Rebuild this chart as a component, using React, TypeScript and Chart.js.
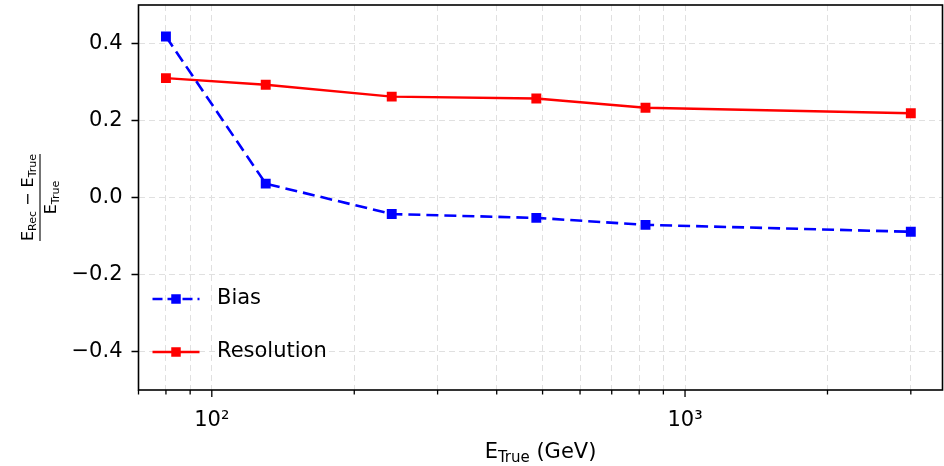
import React, { useEffect, useRef } from "react";
import { Chart, registerables } from "chart.js";

Chart.register(...registerables);

// ---- data ----
const energies = [80, 130, 240, 485, 825, 3000];
const biasValues = [0.418, 0.036, -0.043, -0.053, -0.071, -0.089];
const resolutionValues = [0.31, 0.293, 0.262, 0.257, 0.233, 0.219];
const seriesNames = ["Bias", "Resolution"];
const xTickValues = [70, 80, 90, 100, 200, 300, 400, 500, 600, 700, 800, 900, 1000, 2000, 3000];
const xMajorTicks = [100, 1000];
const xMajorLabels = ["10²", "10³"];
const yTickValues = [-0.4, -0.2, 0, 0.2, 0.4];

const FONT = "'DejaVu Sans', sans-serif";
const BLUE = "#0000ff";
const RED = "#ff0000";

type Part = { t: string; size: number; dy: number };

function drawParts(ctx: CanvasRenderingContext2D, parts: Part[], cx: number, baseY: number) {
  let total = 0;
  const widths = parts.map((p) => {
    ctx.font = `${p.size}px ${FONT}`;
    const w = ctx.measureText(p.t).width;
    total += w;
    return w;
  });
  let x = cx - total / 2;
  ctx.textAlign = "left";
  ctx.textBaseline = "alphabetic";
  parts.forEach((p, i) => {
    ctx.font = `${p.size}px ${FONT}`;
    ctx.fillText(p.t, x, baseY + p.dy);
    x += widths[i];
  });
  return total;
}

const decorPlugin = {
  id: "decor",
  afterDatasetsDraw(chart: any) {
    const { ctx, chartArea: a, scales } = chart;
    const xs = scales.x;
    const ys = scales.y;
    ctx.save();
    ctx.setLineDash([]);
    // tick marks
    ctx.strokeStyle = "#000";
    ctx.lineWidth = 1.3;
    ctx.beginPath();
    xTickValues.forEach((v) => {
      const px = xs.getPixelForValue(v);
      const len = xMajorTicks.includes(v) ? 7 : 4.5;
      ctx.moveTo(px, a.bottom);
      ctx.lineTo(px, a.bottom + len);
    });
    yTickValues.forEach((v) => {
      const py = ys.getPixelForValue(v);
      ctx.moveTo(a.left, py);
      ctx.lineTo(a.left - 7, py);
    });
    ctx.stroke();
    // frame
    ctx.lineWidth = 1.6;
    ctx.strokeRect(a.left, a.top, a.right - a.left, a.bottom - a.top);

    // legend
    const rows = [
      { name: seriesNames[0], color: BLUE, dash: [10, 5], y: a.top + 294 },
      { name: seriesNames[1], color: RED, dash: [], y: a.top + 347 },
    ];
    rows.forEach((r) => {
      const x0 = a.left + 14;
      const x1 = a.left + 61;
      ctx.strokeStyle = r.color;
      ctx.lineWidth = 2.6;
      ctx.setLineDash(r.dash);
      ctx.beginPath();
      ctx.moveTo(x0, r.y);
      ctx.lineTo(x1, r.y);
      ctx.stroke();
      ctx.setLineDash([]);
      ctx.fillStyle = r.color;
      const s = 9.5;
      ctx.fillRect((x0 + x1) / 2 - s / 2, r.y - s / 2, s, s);
      ctx.fillStyle = "#000";
      ctx.font = `21px ${FONT}`;
      ctx.textAlign = "left";
      ctx.textBaseline = "middle";
      ctx.fillText(r.name, a.left + 78.5, r.y);
    });

    // x axis title
    ctx.fillStyle = "#000";
    drawParts(
      ctx,
      [
        { t: "E", size: 21, dy: 0 },
        { t: "True", size: 15, dy: 4 },
        { t: " (GeV)", size: 21, dy: 0 },
      ],
      (a.left + a.right) / 2,
      458
    );

    // y axis title (fraction, rotated)
    ctx.save();
    ctx.translate(40, (a.top + a.bottom) / 2);
    ctx.rotate(-Math.PI / 2);
    const numW = drawParts(
      ctx,
      [
        { t: "E", size: 16, dy: 0 },
        { t: "Rec", size: 11, dy: 3 },
        { t: " − ", size: 16, dy: 0 },
        { t: "E", size: 16, dy: 0 },
        { t: "True", size: 11, dy: 3 },
      ],
      0,
      -7
    );
    drawParts(
      ctx,
      [
        { t: "E", size: 16, dy: 0 },
        { t: "True", size: 11, dy: 3 },
      ],
      0,
      16
    );
    ctx.strokeStyle = "#000";
    ctx.lineWidth = 1.1;
    ctx.beginPath();
    ctx.moveTo(-numW / 2, 0);
    ctx.lineTo(numW / 2, 0);
    ctx.stroke();
    ctx.restore();

    ctx.restore();
  },
};

export default function App() {
  const ref = useRef<HTMLCanvasElement | null>(null);
  useEffect(() => {
    document.body.style.margin = "0";
    const canvas = ref.current;
    if (!canvas) return;
    const chart = new Chart(canvas, {
      type: "line",
      data: {
        datasets: [
          {
            label: seriesNames[0],
            data: energies.map((e, i) => ({ x: e, y: biasValues[i] })),
            borderColor: BLUE,
            backgroundColor: BLUE,
            borderWidth: 2.6,
            borderDash: [12, 6],
            pointStyle: "rect",
            pointRadius: 7,
            pointBorderWidth: 0,
            pointBackgroundColor: BLUE,
            tension: 0,
          },
          {
            label: seriesNames[1],
            data: energies.map((e, i) => ({ x: e, y: resolutionValues[i] })),
            borderColor: RED,
            backgroundColor: RED,
            borderWidth: 2.4,
            pointStyle: "rect",
            pointRadius: 7,
            pointBorderWidth: 0,
            pointBackgroundColor: RED,
            tension: 0,
          },
        ],
      },
      options: {
        responsive: false,
        animation: false,
        devicePixelRatio: 1,
        layout: { autoPadding: false, padding: { left: 0, top: 5, right: 1.5, bottom: 0 } },
        plugins: {
          legend: { display: false },
          tooltip: { enabled: false },
        },
        scales: {
          x: {
            type: "logarithmic",
            min: 70,
            max: 3500,
            afterBuildTicks: (s: any) => {
              s.ticks = xTickValues.map((v) => ({ value: v, major: xMajorTicks.includes(v) }));
            },
            afterFit: (s: any) => {
              s.height = 76;
              s.paddingLeft = 0;
              s.paddingRight = 0;
            },
            ticks: {
              autoSkip: false,
              maxRotation: 0,
              padding: 18,
              color: "#000",
              font: { family: FONT, size: 21 },
              callback: (v: any) => {
                const idx = xMajorTicks.indexOf(Number(v));
                return idx >= 0 ? xMajorLabels[idx] : "";
              },
            },
            grid: {
              color: (c: any) => (c.tick && c.tick.value === 70 ? "rgba(0,0,0,0)" : "#e0e0e0"),
              lineWidth: 1,
              drawTicks: false,
            },
            border: { display: false, dash: [6, 4] },
          },
          y: {
            type: "linear",
            min: -0.5,
            max: 0.5,
            afterBuildTicks: (s: any) => {
              s.ticks = yTickValues.map((v) => ({ value: v }));
            },
            afterFit: (s: any) => {
              s.width = 138.5;
              s.paddingTop = 0;
              s.paddingBottom = 0;
            },
            ticks: {
              padding: 16,
              color: "#000",
              font: { family: FONT, size: 21 },
              callback: (v: any) => {
                const n = Number(v);
                if (Math.abs(n) < 1e-9) return "0.0";
                return (n < 0 ? "−" : "") + Math.abs(n).toFixed(1);
              },
            },
            grid: {
              color: "#e0e0e0",
              lineWidth: 1,
              drawTicks: false,
            },
            border: { display: false, dash: [6, 4] },
          },
        },
      },
      plugins: [decorPlugin],
    } as any);
    return () => chart.destroy();
  }, []);
  return (
    <div style={{ position: "absolute", left: 0, top: 0, width: 944, height: 466, background: "#fff" }}>
      <canvas ref={ref} width={944} height={466} style={{ display: "block" }} />
    </div>
  );
}
